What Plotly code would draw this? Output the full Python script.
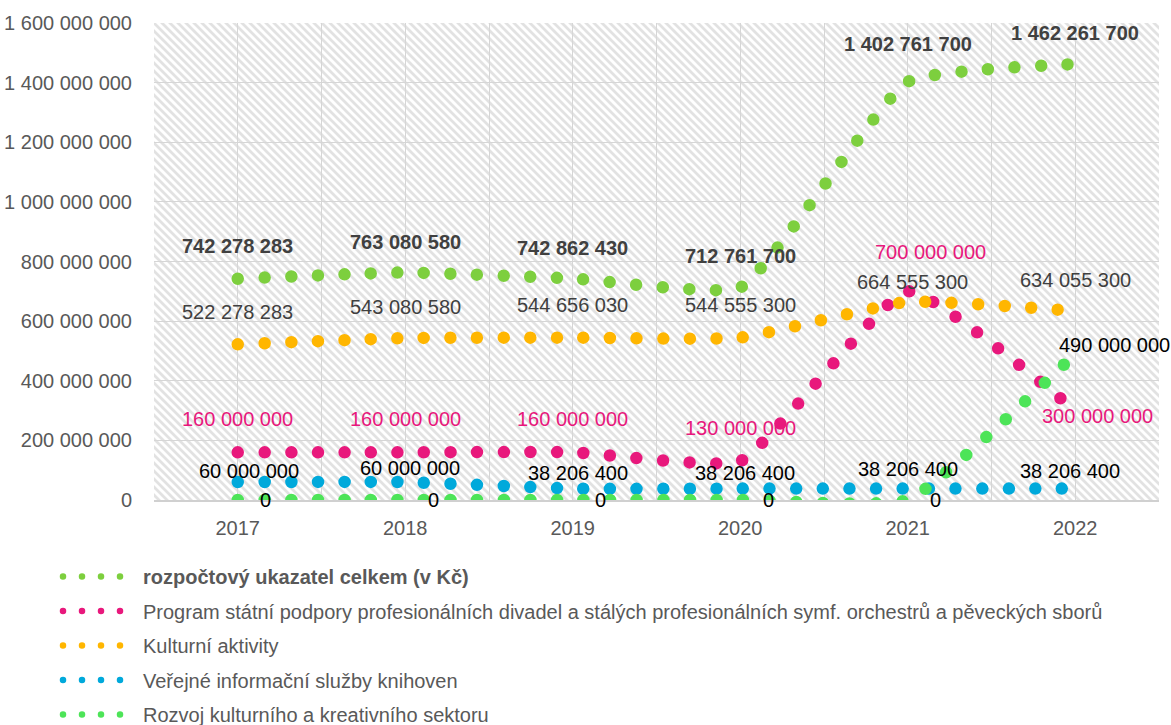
import base64
import plotly.graph_objects as go

years = [2017, 2018, 2019, 2020, 2021, 2022]

series_names = [
    "rozpočtový ukazatel celkem (v Kč)",
    "Program státní podpory profesionálních divadel a stálých profesionálních symf. orchestrů a pěveckých sborů",
    "Kulturní aktivity",
    "Veřejné informační služby knihoven",
    "Rozvoj kulturního a kreativního sektoru",
]

total = [742278283, 763080580, 742862430, 712761700, 1402761700, 1462261700]
divadla = [160000000, 160000000, 160000000, 130000000, 700000000, 300000000]
kulturni = [522278283, 543080580, 544656030, 544555300, 664555300, 634055300]
knihovny = [60000000, 60000000, 38206400, 38206400, 38206400, 38206400]
rozvoj = [0, 0, 0, 0, 0, 490000000]

series_values = [total, divadla, kulturni, knihovny, rozvoj]
colors = ["#7DCF3E", "#E8187C", "#FFB600", "#00A9DB", "#4DE458"]
label_colors = ["#404040", "#E8187C", "#404040", "#000000", "#000000"]
label_bold = [True, False, False, False, False]
# label pixel offsets (dx, dy upward) per series, per year
label_dx = [[0, 0, 0, 0, 0, 0], [0, 0, 0, 0, 23, 22], [0, 0, 0, 0, 5, 0],
            [11, 5, 5, 5, 0, -5], [28, 28, 28, 28, 28, 39]]
label_dy = [[33, 31, 31, 32, 38, 31], [33, 33, 33, 33, 39, -5], [32, 31, 33, 33, 20, 31],
            [11, 14, 16, 16, 20, 18], [0, 0, 0, 0, 0, 9]]

FONT = "Liberation Sans, Arial, sans-serif"
FS = 20

# figure is a little taller than the 725px window so the legend is not clipped
W, H = 1171, 742
ML, MR, MT, MB = 154, 12, 23, 242
PW, PH = W - ML - MR, H - MT - MB

hatch_svg = (
    f"<svg xmlns='http://www.w3.org/2000/svg' width='{PW}' height='{PH}'>"
    "<defs><pattern id='p' width='8' height='8' patternUnits='userSpaceOnUse'>"
    "<path d='M-2,-2 L10,10 M-2,6 L2,10 M6,-2 L10,2' stroke='#e2e2e2' stroke-width='2.8'/>"
    "</pattern></defs>"
    "<rect width='100%' height='100%' fill='#ffffff'/>"
    "<rect width='100%' height='100%' fill='url(#p)'/></svg>"
)
hatch_uri = "data:image/svg+xml;base64," + base64.b64encode(hatch_svg.encode()).decode()

fig = go.Figure()

for name, vals, col in zip(series_names, series_values, colors):
    fig.add_trace(go.Scatter(
        x=years, y=vals, mode="lines", name=name, showlegend=False,
        line=dict(color=col, width=12.5, dash="0px,26.6px", shape="spline", smoothing=0.4),
        hoverinfo="skip", cliponaxis=False,
    ))

for i, (name, col) in enumerate(zip(series_names, colors)):
    fig.add_trace(go.Scatter(
        x=[None], y=[None], mode="lines",
        name=f"<b>{name}</b>" if i == 0 else name,
        legendgroup=f"g{i}",
        line=dict(color=col, width=6.5, dash="0px,19px,0px,19px,0px,19px,0px,200px"),
    ))

def fmt(v):
    return f"{v:,}".replace(",", " ")

for s, vals in enumerate(series_values):
    for j, (yr, v) in enumerate(zip(years, vals)):
        txt = fmt(v)
        if label_bold[s]:
            txt = f"<b>{txt}</b>"
        fig.add_annotation(
            x=yr, y=v, text=txt, showarrow=False,
            xshift=label_dx[s][j], yshift=label_dy[s][j],
            font=dict(family=FONT, size=FS, color=label_colors[s]),
        )

fig.update_layout(
    width=W, height=H,
    margin=dict(l=ML, r=MR, t=MT, b=MB, pad=0, autoexpand=False),
    paper_bgcolor="white", plot_bgcolor="rgba(0,0,0,0)",
    separators=". ",
    font=dict(family=FONT, size=FS, color="#595959"),
    images=[dict(source=hatch_uri, xref="paper", yref="paper", x=0, y=1,
                 sizex=1, sizey=1, xanchor="left", yanchor="top",
                 sizing="stretch", layer="below")],
    xaxis=dict(
        range=[2016.5, 2022.5], tickmode="array", tickvals=years,
        ticktext=[str(y) for y in years],
        showgrid=True, gridcolor="#d6d6d6", gridwidth=1,
        minor=dict(dtick=0.5, tick0=2016.5, showgrid=True, gridcolor="#d6d6d6", gridwidth=1),
        showline=True, linecolor="#d0d0d0", linewidth=2,
        zeroline=False, ticks="", ticklabelstandoff=9,
        tickfont=dict(family=FONT, size=FS, color="#595959"),
    ),
    yaxis=dict(
        range=[0, 1600000000], dtick=200000000, tickformat=",d",
        showgrid=True, gridcolor="#d6d6d6", gridwidth=1,
        zeroline=False, showline=False, ticks="", ticklabelstandoff=21,
        tickfont=dict(family=FONT, size=FS, color="#595959"),
    ),
    legend=dict(
        orientation="v", x=(58 - ML) / PW, xanchor="left",
        y=-(557 - (MT + PH)) / PH, yanchor="top",
        font=dict(family=FONT, size=FS, color="#595959"),
        bgcolor="rgba(0,0,0,0)", itemwidth=75, tracegroupgap=5.5,
    ),
)

post = ("var s=document.createElement('style');"
        "s.innerHTML='.js-line{stroke-linecap:round;} body{margin:0;padding:0;overflow:hidden;}';"
        "document.head.appendChild(s);")
fig.write_html("out.html", post_script=post, config={"displayModeBar": False})
